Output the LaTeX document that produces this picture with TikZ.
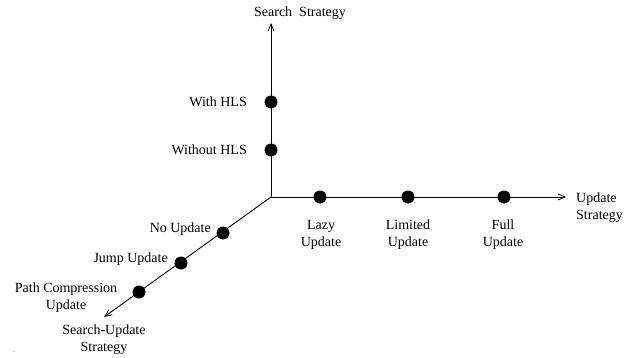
\documentclass[tikz,border=0pt]{standalone}
\usepackage{fontspec}
\setmainfont{Liberation Serif}
\usetikzlibrary{arrows.meta}
\begin{document}
\begin{tikzpicture}[x=1pt,y=-1pt,
  axis/.style={line width=0.9pt,-{Straight Barb[length=7pt,width=6pt,line width=0.8pt]}},
  dot/.style={circle,fill=black,inner sep=0pt,minimum size=13pt},
  lbl/.style={inner sep=0pt,font=\fontsize{14}{17}\selectfont},
  lblc/.style={lbl,align=center},
  lbll/.style={lbl,align=left}]
\useasboundingbox (0,0) rectangle (644,358);
\coordinate (o) at (271,197);
\coordinate (ytip) at (271,23);
\coordinate (xtip) at (566,197);
\coordinate (dtip) at (104,317);
\draw[axis] (o) -- (ytip);
\draw[axis] (o) -- (xtip);
\draw[axis] (o) -- (dtip);
% vertical
\node[dot] (whls) at (271,102) {};
\node[dot] (wohls) at (271,150) {};
\node[lbl,anchor=east] (twhls) at (247,102) {With HLS};
\node[lbl,anchor=east] (twohls) at (247,150) {Without HLS};
\node[lbl] (tss) at (300,13) {Search\ \ Strategy};
% horizontal
\node[dot] (lazy) at (320,197) {};
\node[dot] (lim) at (408,197) {};
\node[dot] (full) at (504,197) {};
\node[lblc] (tlazy) at (321,235) {Lazy\\Update};
\node[lblc] (tlim) at (408,235) {Limited\\Update};
\node[lblc] (tfull) at (503,235) {Full\\Update};
\node[lbll,anchor=west] (tus) at (576,208) {Update\\Strategy};
% diagonal
\node[dot] (noup) at (223,233) {};
\node[dot] (jump) at (181,263) {};
\node[dot] (path) at (139,292) {};
\node[lbl,anchor=east] (tnoup) at (211,229) {No Update};
\node[lbl,anchor=east] (tjump) at (168,259) {Jump Update};
\node[lblc] (tpath) at (66,298) {Path Compression\\Update};
\node[lblc] (tsus) at (104,340) {Search-Update\\Strategy};
\node[inner sep=0pt,font=\fontsize{8}{8}\selectfont] (pt) at (14,352) {.};
\end{tikzpicture}
\end{document}
